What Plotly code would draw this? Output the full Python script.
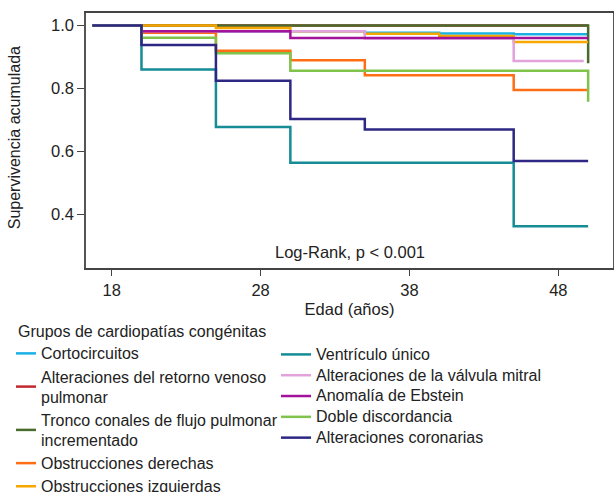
import plotly.graph_objects as go

# Kaplan-Meier step curves: follow-up age (years) and cumulative survival
groups = [
    "Cortocircuitos",
    "Alteraciones del retorno venoso<br>pulmonar",
    "Tronco conales de flujo pulmonar<br>incrementado",
    "Obstrucciones derechas",
    "Obstrucciones izquierdas",
    "Ventrículo único",
    "Alteraciones de la válvula mitral",
    "Anomalía de Ebstein",
    "Doble discordancia",
    "Alteraciones coronarias",
]

t_cortocircuitos = [16.7, 20, 35, 40, 45, 50]
s_cortocircuitos = [1.0, 0.982, 0.977, 0.975, 0.972, 0.972]

t_retorno = [16.7, 50]
s_retorno = [1.0, 1.0]

t_tronco = [16.7, 50, 50]
s_tronco = [1.0, 1.0, 0.880]

t_obs_der = [16.7, 20, 25, 30, 35, 45, 50]
s_obs_der = [1.0, 0.977, 0.920, 0.890, 0.842, 0.795, 0.795]

t_obs_izq = [16.7, 25, 30, 35, 40, 45, 50]
s_obs_izq = [1.0, 0.992, 0.982, 0.974, 0.967, 0.948, 0.948]

t_ventriculo = [16.7, 20, 25, 30, 45, 50]
s_ventriculo = [1.0, 0.860, 0.678, 0.564, 0.3625, 0.3625]

t_mitral = [16.7, 20, 35, 45, 49.7]
s_mitral = [1.0, 0.982, 0.959, 0.887, 0.887]

t_ebstein = [16.7, 20, 30, 50]
s_ebstein = [1.0, 0.982, 0.960, 0.960]

t_doble = [16.7, 20, 25, 30, 50, 50]
s_doble = [1.0, 0.961, 0.912, 0.856, 0.856, 0.758]

t_coronarias = [16.7, 20, 25, 30, 35, 45, 50]
s_coronarias = [1.0, 0.938, 0.825, 0.703, 0.670, 0.570, 0.570]

times = [t_cortocircuitos, t_retorno, t_tronco, t_obs_der, t_obs_izq,
         t_ventriculo, t_mitral, t_ebstein, t_doble, t_coronarias]
survival = [s_cortocircuitos, s_retorno, s_tronco, s_obs_der, s_obs_izq,
            s_ventriculo, s_mitral, s_ebstein, s_doble, s_coronarias]

colors = ["#19b1e6", "#c1272d", "#4a6b2e", "#ff6e14", "#f7a800",
          "#168c96", "#e2a2dc", "#a3129b", "#7fc34a", "#2e2783"]

x_ticks = [18, 28, 38, 48]
y_ticks = [0.4, 0.6, 0.8, 1.0]

FONT = "Liberation Sans, Arial, sans-serif"

fig = go.Figure()
for i, (name, t, s, c) in enumerate(zip(groups, times, survival, colors)):
    legend_id = "legend" if i < 5 else "legend2"
    # entry text is set at 16px; the legend font size sets the row pitch
    label = "<br>".join(
        f'<span style="font-size:16px">{part}</span>' for part in name.split("<br>")
    )
    fig.add_trace(go.Scatter(
        x=t, y=s, mode="lines", name=label,
        line=dict(color=c, width=2.5, shape="hv"),
        legend=legend_id,
    ))

fig.add_annotation(
    x=0.5, y=0.063, xref="paper", yref="paper",
    text="Log-Rank, p < 0.001", showarrow=False,
    xanchor="center", yanchor="middle",
    font=dict(size=16.5, color="#222", family=FONT),
)

# vertical axis title, placed left of the tick labels
fig.add_annotation(
    x=-0.135, y=0.512, xref="paper", yref="paper",
    text="Supervivencia acumulada", showarrow=False, textangle=-90,
    xanchor="center", yanchor="middle",
    font=dict(size=16, color="#222", family=FONT),
)

fig.update_layout(
    width=614, height=492,
    margin=dict(l=86, r=1, t=13, b=224, autoexpand=False),
    paper_bgcolor="white", plot_bgcolor="white",
    font=dict(family=FONT, size=16, color="#222"),
    xaxis=dict(
        range=[16.274, 51.67], tickvals=x_ticks,
        showgrid=False, zeroline=False,
        showline=True, linecolor="#444", linewidth=1.5, mirror=True,
        ticks="outside", ticklen=6, tickcolor="#444",
        tickfont=dict(size=16.5),
        title=dict(text="Edad (años)", font=dict(size=16.5), standoff=6),
    ),
    yaxis=dict(
        range=[0.2302, 1.0397], tickvals=y_ticks, tickformat=".1f",
        showgrid=False, zeroline=False,
        showline=True, linecolor="#555", linewidth=1.5, mirror=True,
        ticks="outside", ticklen=7, tickcolor="#444",
        tickfont=dict(size=16.5),
    ),
    legend=dict(
        xref="container", yref="container",
        x=16 / 614, y=1 - 316 / 492, xanchor="left", yanchor="top",
        title=dict(text="Grupos de cardiopatías congénitas", font=dict(size=16)),
        font=dict(size=15.5), indentation=-15,
        bgcolor="rgba(0,0,0,0)", itemwidth=30,
    ),
    legend2=dict(
        xref="container", yref="container",
        x=276 / 614, y=1 - 339 / 492, xanchor="left", yanchor="top",
        font=dict(size=13.7),
        bgcolor="rgba(0,0,0,0)", itemwidth=30,
    ),
)

fig.write_html("out.html")
